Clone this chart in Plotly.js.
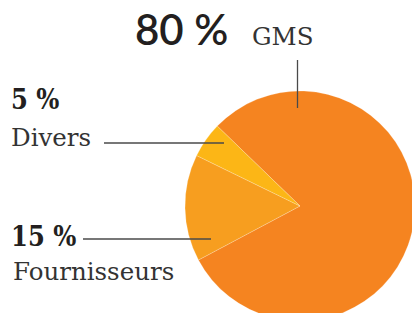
<!DOCTYPE html>
<html><head><meta charset="utf-8">
<script src="https://cdn.plot.ly/plotly-3.0.1.min.js"></script>
<style>html,body{margin:0;padding:0;overflow:hidden;background:#fff;}#chart{width:430px;height:330px;}</style>
</head><body><div id="chart"></div>
<script>
const categories = ["GMS", "Fournisseurs", "Divers"];
const shares = [80, 15, 5];
const shareLabels = ["80 %", "15 %", "5 %"];
const colors = ["#F58420", "#F79E1F", "#FCB616"];

const W = 430, H = 330;
const px = x => x / W;
const py = y => 1 - y / H;

const trace = {
  type: "pie",
  labels: categories,
  values: shares,
  sort: false,
  direction: "clockwise",
  rotation: -46,
  textinfo: "none",
  hoverinfo: "none",
  showlegend: false,
  marker: {colors: colors, line: {color: "rgba(255,255,255,0.35)", width: 0.6}},
  domain: {x: [px(185), px(415)], y: [py(321), py(91)]}
};

const numFont = {family: "DejaVu Serif Condensed, DejaVu Serif", size: 27, color: "#231F20", weight: 700};
const labFont = {family: "DejaVu Serif", size: 24.5, color: "#333333"};

const annotations = [
  {text: shareLabels[0], x: px(133), y: py(29), xanchor: "left", yanchor: "middle",
   font: {family: "Lato", size: 42, color: "#231F20", weight: 600}},
  {text: categories[0], x: px(250), y: py(36), xanchor: "left", yanchor: "middle", font: labFont},
  {text: shareLabels[2], x: px(9), y: py(100), xanchor: "left", yanchor: "middle", font: numFont},
  {text: categories[2], x: px(9), y: py(137), xanchor: "left", yanchor: "middle", font: labFont},
  {text: shareLabels[1], x: px(9), y: py(236), xanchor: "left", yanchor: "middle", font: numFont},
  {text: categories[1], x: px(11), y: py(271), xanchor: "left", yanchor: "middle", font: labFont}
].map(a => Object.assign({xref: "paper", yref: "paper", showarrow: false}, a));

const lineStyle = {color: "#4a4a4a", width: 1.3};
const shapes = [
  {type: "line", x0: px(297.5), x1: px(297.5), y0: py(60), y1: py(108), line: lineStyle},
  {type: "line", x0: px(104), x1: px(224), y0: py(143), y1: py(143), line: lineStyle},
  {type: "line", x0: px(83), x1: px(211), y0: py(239), y1: py(239), line: lineStyle}
].map(s => Object.assign({xref: "paper", yref: "paper"}, s));

Plotly.newPlot("chart", [trace], {
  width: W, height: H,
  margin: {l: 0, r: 0, t: 0, b: 0},
  paper_bgcolor: "#fff",
  annotations: annotations,
  shapes: shapes
}, {staticPlot: true});
</script></body></html>
